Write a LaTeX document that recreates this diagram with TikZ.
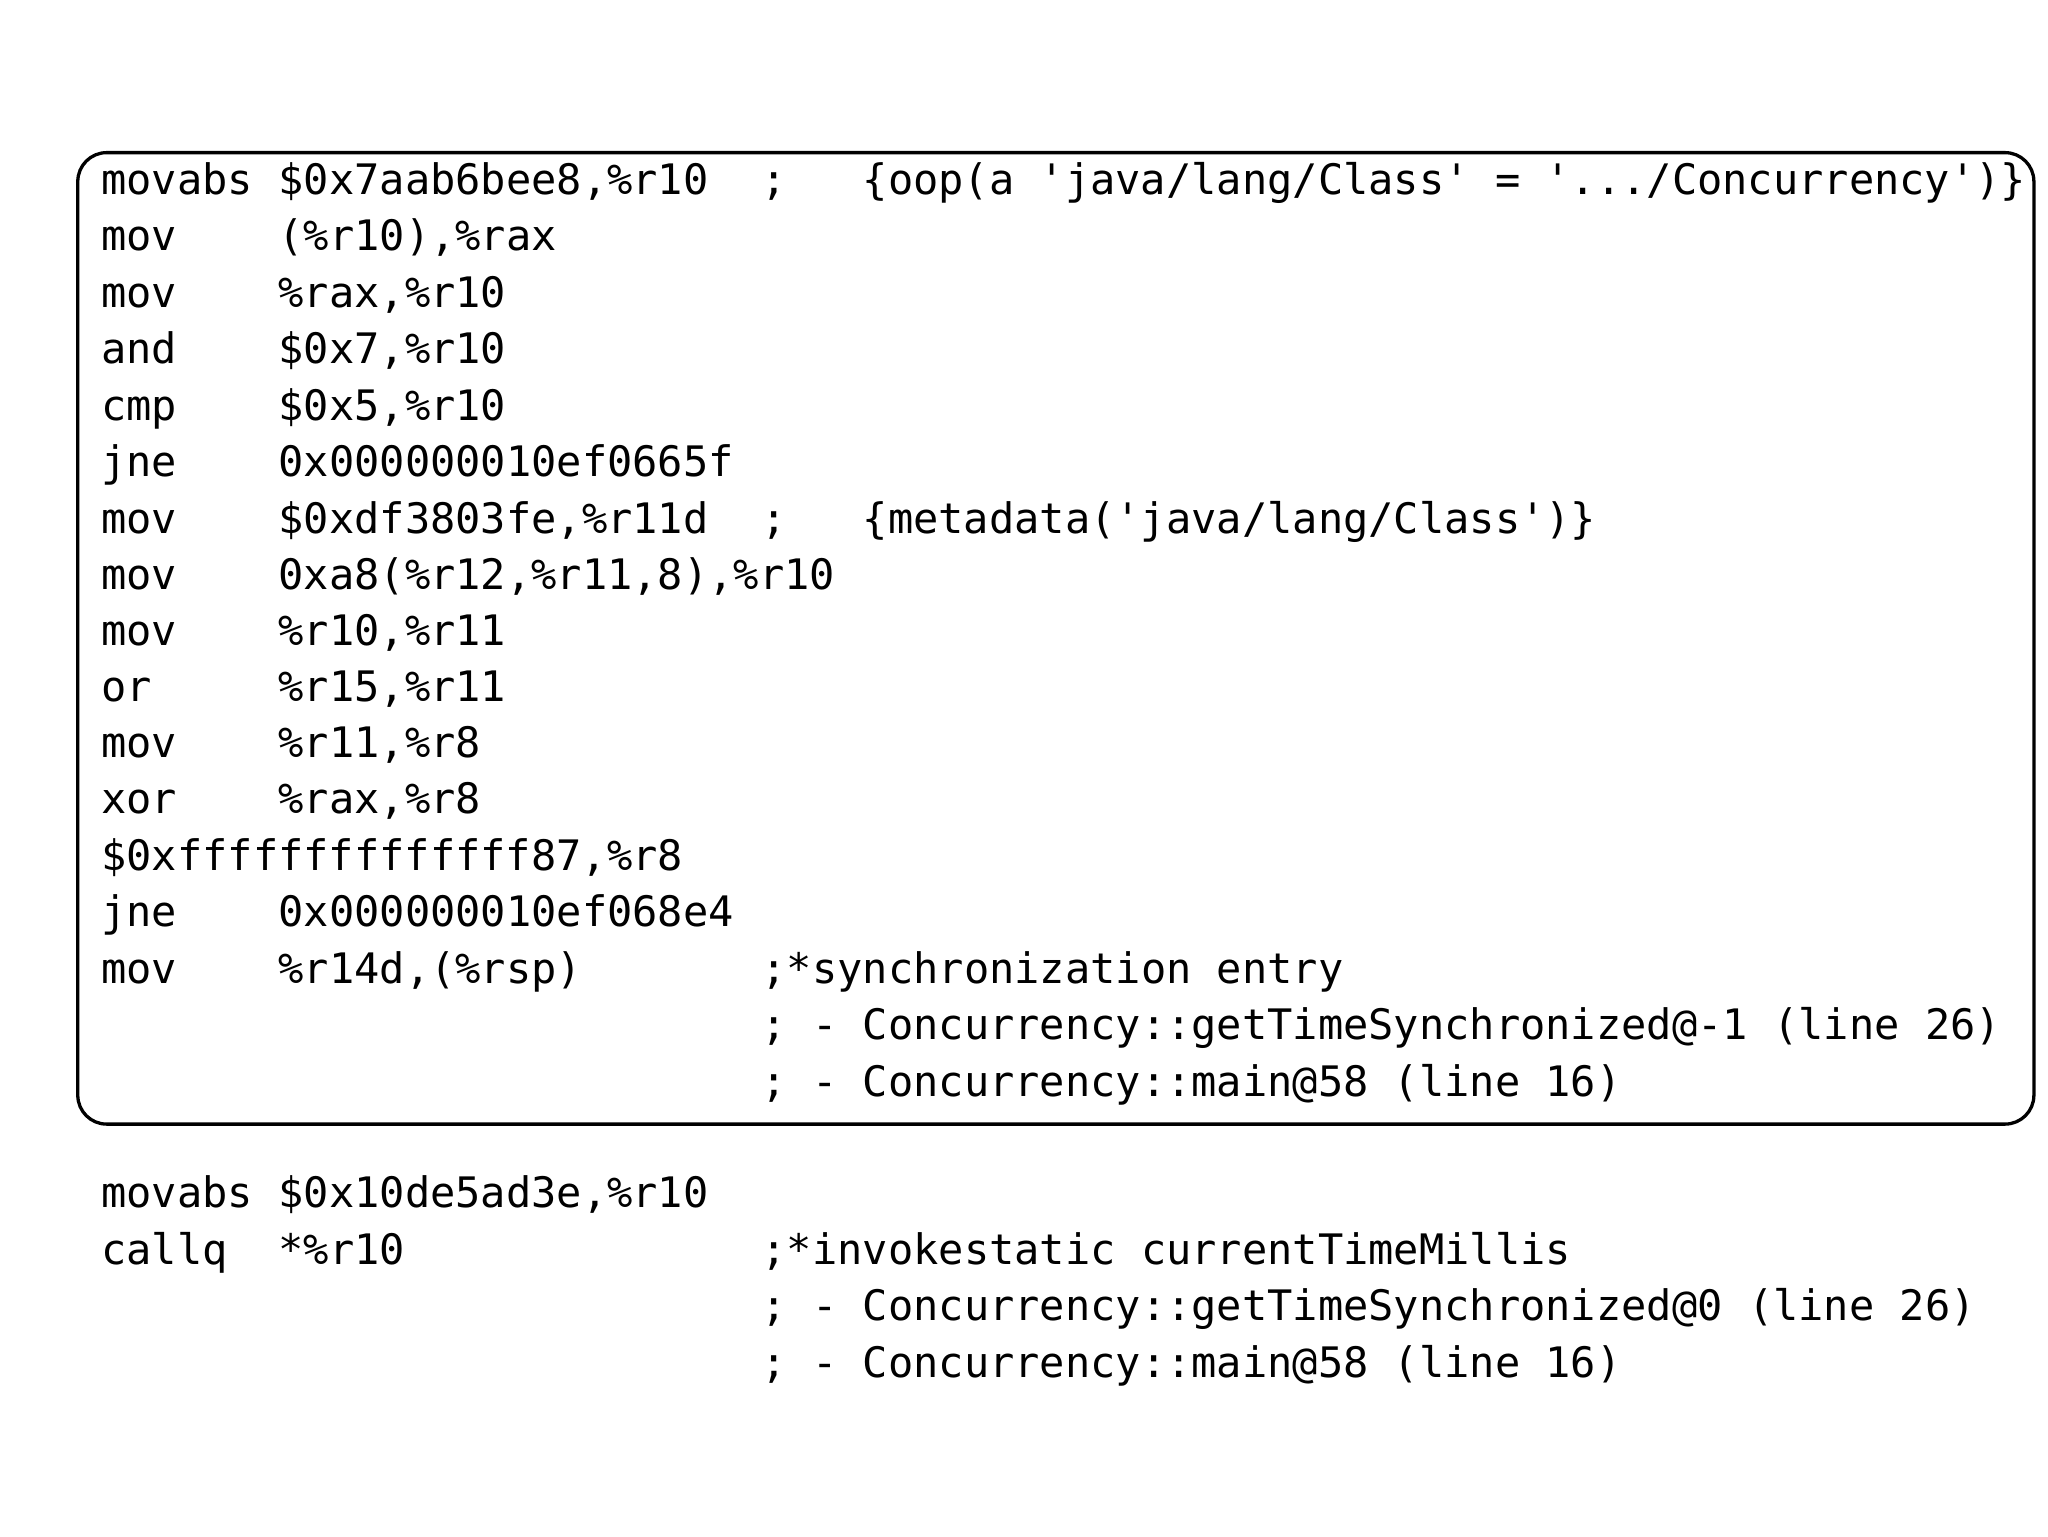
\documentclass[tikz,border=0pt]{standalone}
\usepackage{fontspec}
\newfontfamily\mono[Ligatures=ResetAll]{DejaVu Sans Mono}
\begin{document}
\begin{tikzpicture}[x=1pt,y=-1pt,
  code/.style={anchor=base west,inner sep=0pt,font=\mono\fontsize{32}{40}\selectfont},
  frame/.style={draw,line width=2.5pt,rounded corners=22pt}]
\useasboundingbox (0,0) rectangle (1560,1170);
\node[frame,minimum width=1490pt,minimum height=740pt,anchor=north west] (box) at (58,115) {};
\def\A{77}\def\B{212}\def\C{580}\def\D{657}
\newcommand\cl[4]{\node[code] (#1) at (#2,#3) {#4};}
% block 1
\cl{a1}{\A}{148}{movabs}\cl{a2}{\B}{148}{\$0x7aab6bee8,\%r10}\cl{a3}{\C}{148}{;}\cl{a4}{\D}{148}{\{oop(a 'java/lang/Class' = '.../Concurrency')\}}
\cl{b1}{\A}{191}{mov}\cl{b2}{\B}{191}{(\%r10),\%rax}
\cl{c1}{\A}{234}{mov}\cl{c2}{\B}{234}{\%rax,\%r10}
\cl{d1}{\A}{277}{and}\cl{d2}{\B}{277}{\$0x7,\%r10}
\cl{e1}{\A}{320}{cmp}\cl{e2}{\B}{320}{\$0x5,\%r10}
\cl{f1}{\A}{363}{jne}\cl{f2}{\B}{363}{0x000000010ef0665f}
\cl{g1}{\A}{406}{mov}\cl{g2}{\B}{406}{\$0xdf3803fe,\%r11d}\cl{g3}{\C}{406}{;}\cl{g4}{\D}{406}{\{metadata('java/lang/Class')\}}
\cl{h1}{\A}{449}{mov}\cl{h2}{\B}{449}{0xa8(\%r12,\%r11,8),\%r10}
\cl{i1}{\A}{492}{mov}\cl{i2}{\B}{492}{\%r10,\%r11}
\cl{j1}{\A}{534}{or}\cl{j2}{\B}{534}{\%r15,\%r11}
\cl{k1}{\A}{577}{mov}\cl{k2}{\B}{577}{\%r11,\%r8}
\cl{l1}{\A}{620}{xor}\cl{l2}{\B}{620}{\%rax,\%r8}
\cl{m1}{\A}{663}{\$0xffffffffffffff87,\%r8}
\cl{n1}{\A}{706}{jne}\cl{n2}{\B}{706}{0x000000010ef068e4}
\cl{o1}{\A}{749}{mov}\cl{o2}{\B}{749}{\%r14d,(\%rsp)}\cl{o3}{\C}{749}{;*synchronization entry}
\cl{p3}{\C}{792}{; - Concurrency::getTimeSynchronized@-1 (line 26)}
\cl{q3}{\C}{835}{; - Concurrency::main@58 (line 16)}
% block 2
\cl{r1}{\A}{920}{movabs}\cl{r2}{\B}{920}{\$0x10de5ad3e,\%r10}
\cl{s1}{\A}{963}{callq}\cl{s2}{\B}{963}{*\%r10}\cl{s3}{\C}{963}{;*invokestatic currentTimeMillis}
\cl{t3}{\C}{1006}{; - Concurrency::getTimeSynchronized@0 (line 26)}
\cl{u3}{\C}{1049}{; - Concurrency::main@58 (line 16)}
\end{tikzpicture}
\end{document}
